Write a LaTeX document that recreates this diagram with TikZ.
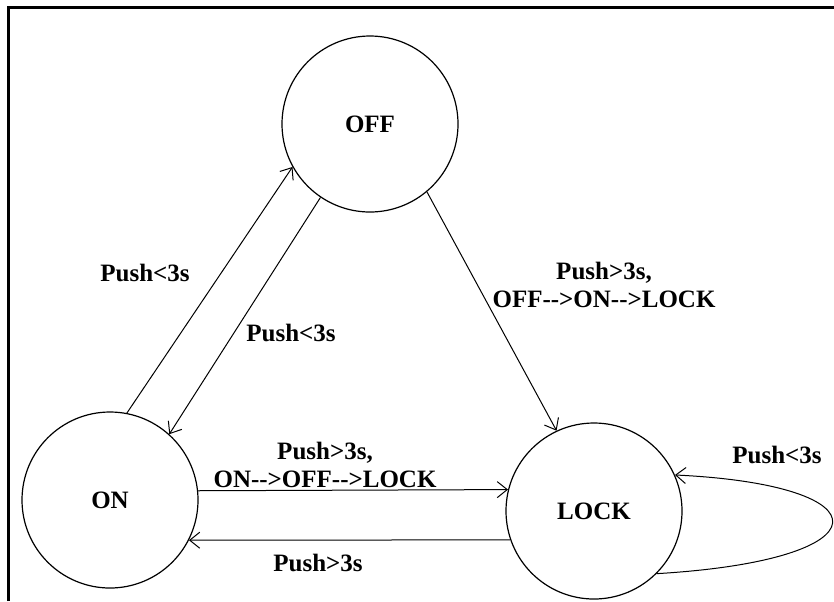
\documentclass[tikz,border=0pt]{standalone}
\usepackage{fontspec}
\setmainfont{Liberation Serif}
\usepackage{tikz}
\usetikzlibrary{arrows.meta}
\newcommand{\dashto}{-\kern0pt->}

\begin{document}
\begin{tikzpicture}[x=0.5pt, y=-0.5pt,
    state/.style={circle, draw, line width=0.6pt, minimum size=88pt, inner sep=0pt, font=\bfseries\fontsize{12.5}{13.5}\selectfont},
    lbl/.style={align=center, font=\bfseries\fontsize{12.5}{14}\selectfont},
    trans/.style={->, >={Straight Barb[length=5pt, width=8pt]}, line width=0.5pt}]
    \useasboundingbox (0,0) rectangle (834,601);

    % Draw the frame
    \draw[line width=1.2pt] (8.5,601) -- (8.5,7.5) -- (834,7.5);

    % Draw the states
    \node[state] (off) at (370,124) {OFF};
    \node[state] (on) at (110,500) {ON};
    \node[state] (lock) at (594,511) {LOCK};

    % Draw the transitions
    \draw[trans] (on.79) -- (off.209);
    \draw[trans] (off.236) -- (on.48);
    \draw[trans] (off.310) -- (lock.115);
    \draw[trans] (on.6.5) -- (lock.166);
    \draw[trans] (lock.199) -- (on.-27);
    \draw[trans] (lock.-45) .. controls (888,560) and (888,485) .. (lock.24);

    % Add the labels
    \node[lbl] (up) at (145,273) {Push<3s};
    \node[lbl] (down) at (291,333) {Push<3s};
    \node[lbl] (offlock) at (604,285) {Push>3s,\\OFF\dashto ON\dashto LOCK};
    \node[lbl] (onlock) at (325,465) {Push>3s,\\ON\dashto OFF\dashto LOCK};
    \node[lbl] (lockon) at (318,563) {Push>3s};
    \node[lbl] (stay) at (777,455) {Push<3s};
\end{tikzpicture}
\end{document}
